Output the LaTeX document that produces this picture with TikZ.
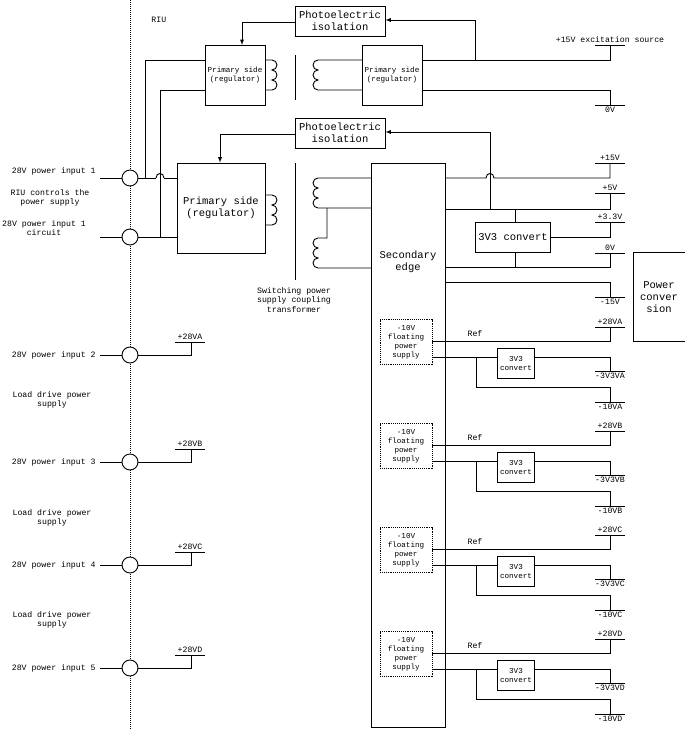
\documentclass[tikz,border=0pt]{standalone}
\usepackage{fontspec}
\setmainfont{Liberation Mono}
\begin{document}
\begin{tikzpicture}[x=1pt,y=-1pt,line width=0.9pt,
  box/.style={draw,inner sep=0pt,align=center},
  lab/.style={font=\fontsize{8.2}{9.5}\selectfont,align=center,inner sep=1pt},
  sm/.style={font=\fontsize{7.6}{9}\selectfont,align=center,inner sep=1pt},
  big/.style={font=\fontsize{10.5}{12}\selectfont,align=center},
  arr/.style={-latex}]
\useasboundingbox (0,0) rectangle (685,729);
\newcommand{\outbar}[4]{% x, y, text, above/below
  \draw (#1-15,#2) -- (#1+15,#2);
  \node[lab,inner sep=2pt,#4] at (#1,#2) {#3};}
% dashed divider
\draw[densely dotted,line width=1pt] (130,0) -- (130,729);
\node[lab,anchor=west] at (150,20) {RIU};
% top isolated supply
\node[box,big,minimum width=90,minimum height=30] (pi1) at (340,21) {Photoelectric\\isolation};
\node[box,sm,minimum width=60,minimum height=60] (ps1) at (235,75) {Primary side\\(regulator)};
\node[box,sm,minimum width=60,minimum height=60] (ps2) at (392,75) {Primary side\\(regulator)};
\draw (265,60) -- (272,60) arc[start angle=-90,end angle=90,radius=5] arc[start angle=-90,end angle=90,radius=5] arc[start angle=-90,end angle=90,radius=5] -- (265,90);
\draw (295,55) -- (295,100);
\draw (362,60) -- (318,60) arc[start angle=-90,end angle=-270,radius=5] arc[start angle=-90,end angle=-270,radius=5] arc[start angle=-90,end angle=-270,radius=5] -- (362,90);
\coordinate (exc) at (610,60); \coordinate (ov1) at (610,90);
\draw (422,60) -- (exc) -- (610,45);
\draw (422,90) -- (ov1) -- (610,105);
\outbar{610}{45}{+15V excitation source}{above}
\outbar{610}{105}{0V}{below}
\draw[arr] (475,60) -- (475,20) -- (pi1.east |- 0,20);
\draw[arr] (pi1.west |- 0,22) -- (242,22) -- (242,45);
% inputs
\foreach \y/\n in {178/c1,237/c2,355/c3,462/c4,565/c5,668/c6}{
  \node[draw,circle,fill=white,minimum size=16,inner sep=0] (\n) at (130,\y) {};}
\node[lab,anchor=east] at (97,171) {28V power input 1};
\node[lab] at (50,198) {RIU controls the\\power supply};
\node[lab] at (44,228) {28V power input 1\\circuit};
\draw (100,178) -- (c1); \draw (100,237) -- (c2);
% big primary
\node[box,big,minimum width=88,minimum height=90] (pb) at (221,208) {Primary side\\(regulator)};
\draw (c1) -- (156,178); \draw (164,178) -- (pb.west |- 0,178);
\draw (156,178) .. controls (156,172) and (164,172) .. (164,178);
\draw (205,60) -- (145,60) -- (145,178);
\draw (c2) -- (pb.west |- 0,237);
\draw (205,90) -- (160,90) -- (160,237);
\draw (265,195) -- (272,195) arc[start angle=-90,end angle=90,radius=5] arc[start angle=-90,end angle=90,radius=5] arc[start angle=-90,end angle=90,radius=5] -- (265,225);
\draw (295,163) -- (295,280);
\node[box,big,minimum width=90,minimum height=30] (pi2) at (340,133) {Photoelectric\\isolation};
\draw[arr] (pi2.west |- 0,134) -- (220,134) -- (pb.north -| 220,0);
% secondary
\draw (371,163) rectangle (445,727);
\node[big] (sec) at (408,262) {Secondary\\edge};
\draw (371,178) -- (318,178) arc[start angle=-90,end angle=-270,radius=5] arc[start angle=-90,end angle=-270,radius=5] arc[start angle=-90,end angle=-270,radius=5] -- (371,208);
\draw (327,208) -- (327,238) -- (318,238) arc[start angle=-90,end angle=-270,radius=5] arc[start angle=-90,end angle=-270,radius=5] arc[start angle=-90,end angle=-270,radius=5] -- (371,268);
\node[lab] at (294,300) {Switching power\\supply coupling\\transformer};
% outputs
\draw (445,178) -- (486,178) .. controls (486,172) and (494,172) .. (494,178) -- (610,178) -- (610,163);
\outbar{610}{163}{+15V}{above}
\draw (445,209) -- (610,209) -- (610,193);
\outbar{610}{193}{+5V}{above}
\draw[arr] (490,209) -- (490,132) -- (pi2.east |- 0,132);
\node[box,big,minimum width=75,minimum height=30] (cv) at (513,237) {3V3 convert};
\draw (515,209) -- (cv.north -| 515,0);
\draw (cv.east) -- (610,237) -- (610,222);
\outbar{610}{222}{+3.3V}{above}
\draw (445,267) -- (610,267) -- (610,253);
\draw (cv.south -| 515,0) -- (515,267);
\outbar{610}{253}{0V}{above}
\draw (445,282) -- (610,282) -- (610,297);
\outbar{610}{297}{-15V}{below}
\node[box,big,minimum width=52,minimum height=89] (pc) at (659,297) {Power\\conver\\sion};
% channels
\foreach \o/\L [count=\k] in {0/A,104/B,208/C,312/D}{
  \begin{scope}[yshift=-\o]
  \node[box,densely dotted,sm,minimum width=52,minimum height=45,fill=white] (fl\k) at (406,342) {-10V\\floating\\power\\supply};
  \node[box,sm,minimum width=37,minimum height=30] (cc\k) at (516,363) {3V3\\convert};
  \draw (432,341) -- (610,341) -- (610,327);
  \node[lab] at (475,334) {Ref};
  \outbar{610}{327}{+28V\L}{above}
  \draw (432,357) -- (cc\k.west |- 0,357);
  \draw (cc\k.east |- 0,357) -- (610,357) -- (610,371);
  \outbar{610}{371}{-3V3V\L}{below}
  \draw (476,357) -- (476,387) -- (610,387) -- (610,402);
  \outbar{610}{402}{-10V\L}{below}
  \end{scope}}
% left inputs 2..5
\foreach \y/\n/\c/\L in {355/2/c3/A,462/3/c4/B,565/4/c5/C,668/5/c6/D}{
  \node[lab,anchor=east] at (97,\y) {28V power input \n};
  \draw (100,\y) -- (\c) -- (191,\y) -- (191,\y-13);
  \outbar{190}{\y-13}{+28V\L}{above}}
\foreach \y in {400,518,620}{\node[lab] at (52,\y) {Load drive power\\supply};}
\end{tikzpicture}
\end{document}
